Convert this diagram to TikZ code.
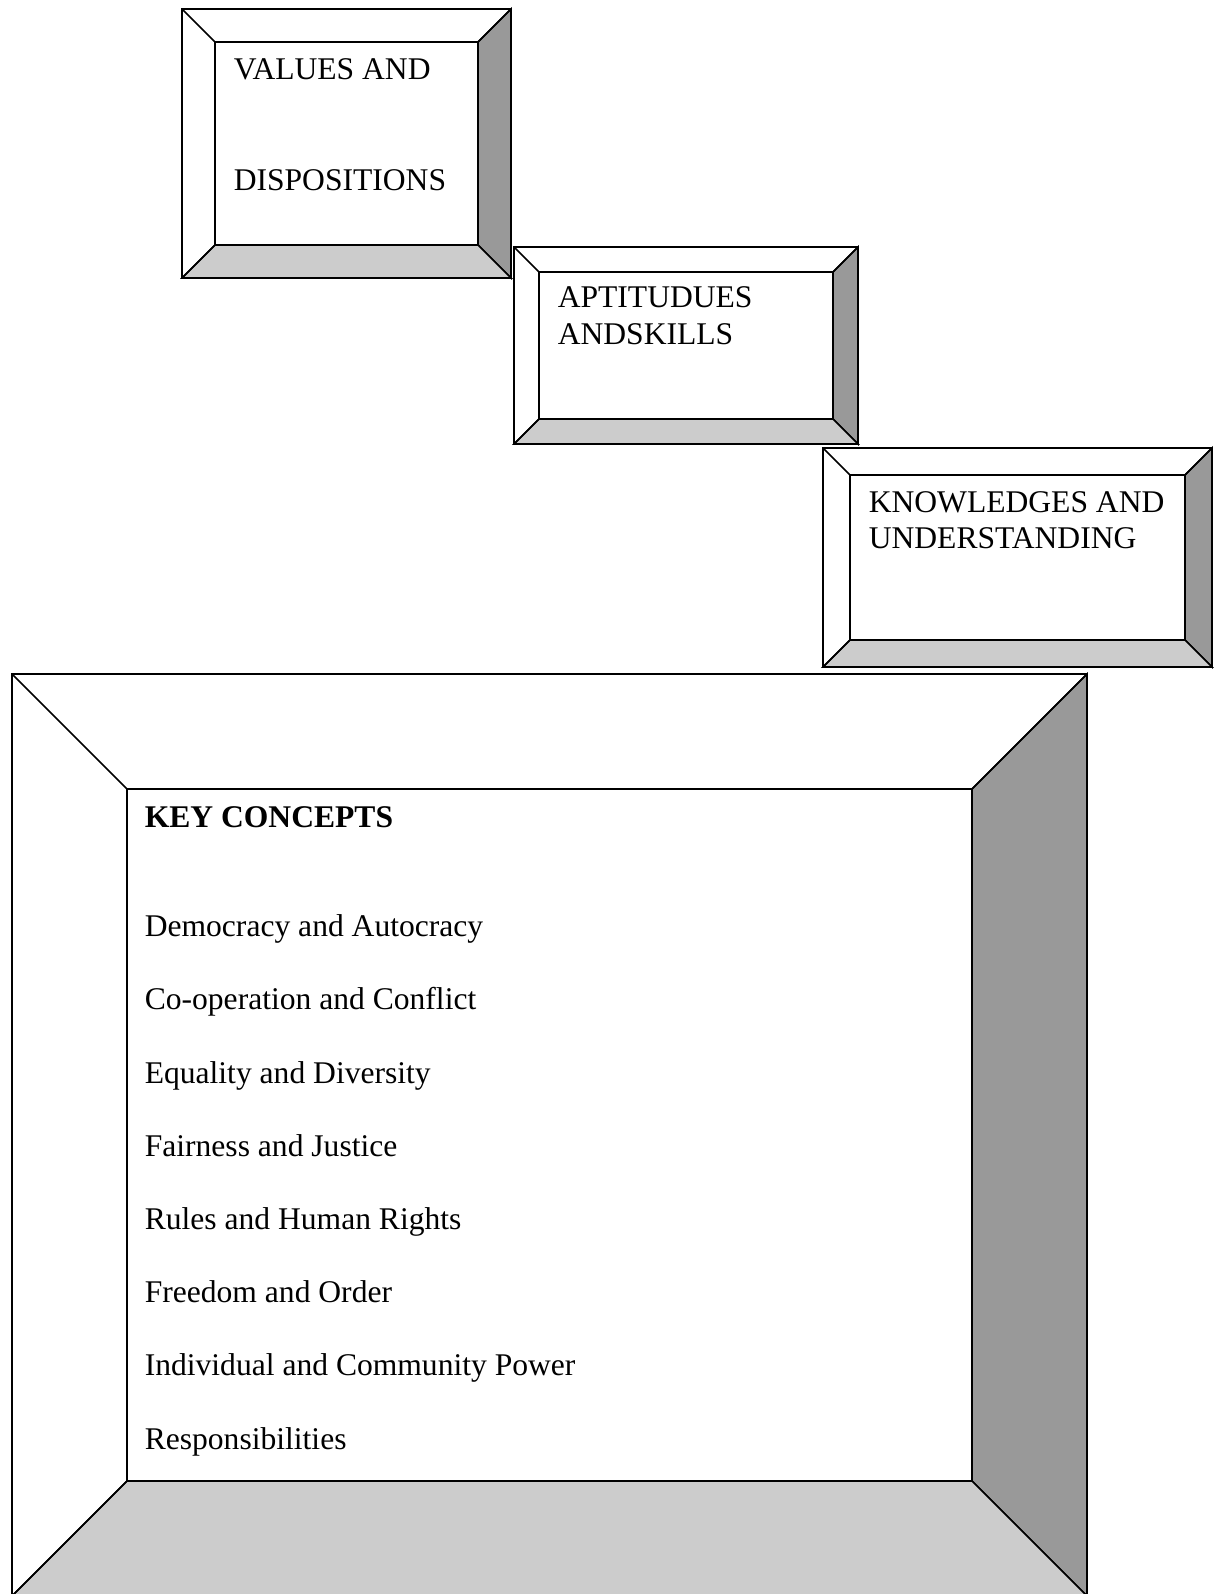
\documentclass[tikz,border=0pt]{standalone}
\usepackage{fontspec}
\setmainfont{Liberation Serif}
\usepackage{tikz}
\usetikzlibrary{calc}
\definecolor{sidegray}{gray}{0.6}
\definecolor{basegray}{gray}{0.8}
% bevelled frame: outer x1,y1,x2,y2 and bevel width
\newcommand{\bevelframe}[5]{%
  \fill[white] (#1,#2) rectangle (#3,#4);
  \filldraw[fill=sidegray] (#3,#2) -- (#3,#4) -- ({#3-#5},{#4-#5}) -- ({#3-#5},{#2+#5}) -- cycle;
  \filldraw[fill=basegray] (#1,#4) -- (#3,#4) -- ({#3-#5},{#4-#5}) -- ({#1+#5},{#4-#5}) -- cycle;
  \draw (#1,#2) rectangle (#3,#4);
  \draw ({#1+#5},{#2+#5}) rectangle ({#3-#5},{#4-#5});
  \draw (#1,#2) -- ({#1+#5},{#2+#5});
  \draw (#1,#4) -- ({#1+#5},{#4-#5});
  \draw (#3,#2) -- ({#3-#5},{#2+#5});
}

\begin{document}
\begin{tikzpicture}[x=0.38pt,y=-0.38pt,line width=0.6pt,
  label/.style={anchor=base west,inner sep=0pt,font=\fontsize{12}{14}\selectfont},
  heading/.style={label,font=\fontsize{12}{14}\selectfont\bfseries}]
\useasboundingbox (0,0) rectangle (1214,1594);
% ---- values and dispositions ----
\bevelframe{182}{9}{511}{278}{33}
\node[label] (values) at (233,80) {VALUES AND};
\node[label] (dispositions) at (233,191) {DISPOSITIONS};
% ---- aptitudes and skills ----
\bevelframe{514}{247}{858}{444}{25}
\node[label] (aptitudes) at (557,308) {APTITUDUES};
\node[label] (skills) at (557,345) {ANDSKILLS};
% ---- knowledge and understanding ----
\bevelframe{823}{448}{1212}{667}{27}
\node[label] (knowledges) at (868,513) {KNOWLEDGES AND};
\node[label] (understanding) at (868,549) {UNDERSTANDING};
% ---- key concepts frame ----
\bevelframe{12}{674}{1087}{1596}{115}
\node[heading] (keyconcepts) at (144,827) {KEY CONCEPTS};
\foreach \concept [count=\i] in {Democracy and Autocracy,Co-operation and Conflict,Equality and Diversity,Fairness and Justice,Rules and Human Rights,Freedom and Order,Individual and Community Power,Responsibilities}
  \node[label] (concept\i) at (144,{936.7+73.2*(\i-1)}) {\concept};
\end{tikzpicture}
\end{document}
